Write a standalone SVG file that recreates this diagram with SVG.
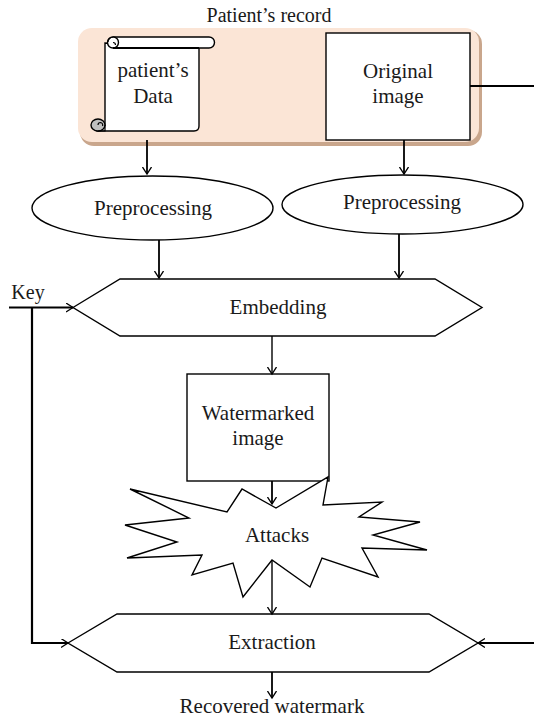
<svg xmlns="http://www.w3.org/2000/svg" width="534" height="717" viewBox="0 0 534 717">
<defs>
<style>
text{font-family:"Liberation Serif","Times New Roman",serif;font-size:21px;fill:#1a1a1a;text-anchor:middle}
.s{fill:#fff;stroke:#000;stroke-width:1.4}
.c{fill:none;stroke:#000;stroke-width:1.8}
.t{fill:none;stroke:#000;stroke-width:2.2}
</style>
<marker id="ah" markerWidth="10" markerHeight="10" refX="7" refY="4.5" orient="auto" markerUnits="userSpaceOnUse">
<path d="M0,0 L7,4.5 L0,9" fill="none" stroke="#000" stroke-width="1.3"/>
</marker>
</defs>
<rect width="534" height="717" fill="#fff"/>

<g id="record">
<text x="269" y="22" style="font-size:20px">Patient’s record</text>
<rect x="80" y="30" width="402" height="116" rx="14" fill="#c9a68c"/>
<rect x="78" y="28" width="401" height="114" rx="14" fill="#fbe5d6"/>
</g>

<g id="patient-data">
<path d="M105,43 V125 H97 V131 H194 Q199,131 199,126 V48 Z" class="s"/>
<path d="M113,37 H209 A5.5,5.5 0 0 1 209,48 H113" class="s"/>
<circle cx="113" cy="42.5" r="5.5" class="s"/>
<path d="M113,48 H199" stroke="#000" stroke-width="2" fill="none"/>
<path d="M113,42.5 a2.5,2.5 0 0 1 2.5,2.5 M108,42 a5,5 0 0 1 5,-5" fill="none" stroke="#000" stroke-width="1.2"/>
<ellipse cx="98" cy="125" rx="7" ry="6" fill="#bfbfbf" stroke="#000" stroke-width="1.4"/>
<path d="M98,125 a2.5,2.5 0 0 1 2.5,-2.5 a2.5,2.5 0 0 1 2,3.5 M98,131 H105 V125" fill="none" stroke="#000" stroke-width="1.2"/>
<text x="153" y="77">patient’s</text>
<text x="153" y="103">Data</text>
</g>

<g id="original-image">
<rect x="326" y="33" width="144" height="107" class="s"/>
<text x="398" y="78">Original</text>
<text x="398" y="103">image</text>
</g>

<g id="preprocessing-1">
<ellipse cx="152.5" cy="208" rx="120.5" ry="32" class="s"/>
<text x="153" y="215">Preprocessing</text>
</g>

<g id="preprocessing-2">
<ellipse cx="402.5" cy="204.5" rx="120.5" ry="29.5" class="s"/>
<text x="402" y="209">Preprocessing</text>
</g>

<g id="embedding">
<polygon points="73,307.5 120,279 435,279 482,307.5 435,336 120,336" class="s"/>
<text x="278" y="314">Embedding</text>
</g>

<g id="watermarked">
<rect x="187" y="374" width="142" height="107" class="s"/>
<text x="258" y="420">Watermarked</text>
<text x="258" y="445">image</text>
</g>

<g id="attacks">
<polygon points="130,489 227,512 242,489 276,508 328,477 323,505 382,502 359,517 420,522 373,535 427,550 362,548 378,577 322,558 310,587 272,560 243,597 233,563 192,575 202,555 127,558 177,542 125,525 189,518" class="s"/>
<text x="277" y="542">Attacks</text>
</g>

<g id="extraction">
<polygon points="68,643 117,614 429,614 478,643 429,672 117,672" class="s"/>
<text x="272" y="649">Extraction</text>
</g>

<g id="key">
<text x="28" y="299" style="font-size:20px">Key</text>
</g>

<g id="recovered">
<text x="272" y="713">Recovered watermark</text>
</g>

<g id="connectors">
<line x1="147" y1="140" x2="147" y2="174" class="c" marker-end="url(#ah)"/>
<line x1="404" y1="140" x2="404" y2="174" class="c" marker-end="url(#ah)"/>
<line x1="470" y1="86" x2="534" y2="86" class="t"/>
<line x1="159" y1="240" x2="159" y2="278" class="c" marker-end="url(#ah)"/>
<line x1="399" y1="234" x2="399" y2="278" class="c" marker-end="url(#ah)"/>
<line x1="9" y1="307.5" x2="73" y2="307.5" class="t" marker-end="url(#ah)"/>
<polyline points="32,307.5 32,643 68,643" class="t" marker-end="url(#ah)"/>
<line x1="534" y1="643" x2="478" y2="643" class="t" marker-end="url(#ah)"/>
<line x1="272" y1="336" x2="272" y2="374" class="c" style="stroke-width:1.4" marker-end="url(#ah)"/>
<line x1="272" y1="481" x2="272" y2="504" class="c" marker-end="url(#ah)"/>
<line x1="272" y1="560" x2="272" y2="614" class="c" style="stroke-width:1.4" marker-end="url(#ah)"/>
<line x1="272" y1="672" x2="272" y2="698" class="c" marker-end="url(#ah)"/>
</g>
</svg>
